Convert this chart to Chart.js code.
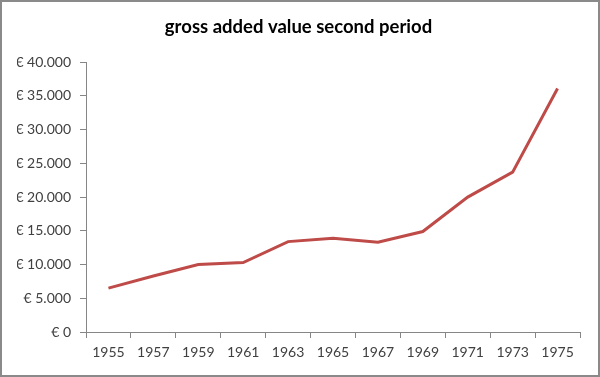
<!DOCTYPE html>
<html>
<head>
<meta charset="utf-8">
<script src="https://cdn.jsdelivr.net/npm/chart.js@4"></script>
<style>
    html, body { margin: 0; padding: 0; background: #fff; }
    #wrap { width: 600px; height: 377px; position: relative; }
</style>
</head>
<body>
<div id="wrap"><canvas id="line_chart"></canvas></div>
<script>
const years = ['1955', '1957', '1959', '1961', '1963', '1965', '1967', '1969', '1971', '1973', '1975'];
const grossValue = [6500, 8300, 10000, 10300, 13400, 13900, 13300, 14900, 20000, 23700, 36100];
const chartTitle = 'gross added value second period';

const fontFamily = "Lato, 'Open Sans', sans-serif";

// white background + thin grey frame like the original picture
const frame = {
    id: 'frame',
    beforeDraw: (chart) => {
        const c = chart.ctx;
        c.save();
        c.fillStyle = '#ffffff';
        c.fillRect(0, 0, chart.width, chart.height);
        c.strokeStyle = '#8a8a8a';
        c.lineWidth = 2;
        c.strokeRect(1, 1, chart.width - 2, chart.height - 2);
        c.restore();
    }
};

const euro = (v) => '€ ' + String(v).replace(/\B(?=(\d{3})+(?!\d))/g, '.');

const ctx = document.getElementById('line_chart').getContext('2d');
const line_chart = new Chart(ctx, {
    type: 'line',
    data: {
        labels: years,
        datasets: [{
            label: chartTitle,
            data: grossValue,
            borderColor: '#be4b48',
            borderWidth: 3,
            pointRadius: 0,
            tension: 0,
            fill: false
        }]
    },
    options: {
        responsive: true,
        maintainAspectRatio: false,
        animation: false,
        layout: {
            padding: { left: 17, right: 20, top: 0, bottom: 0 } // keeps title centred on the page
        },
        plugins: {
            legend: { display: false },
            tooltip: { enabled: false },
            title: {
                display: true,
                text: chartTitle,
                color: '#000000',
                font: { family: fontFamily, size: 18.5, weight: 'bold' },
                padding: { top: 16, bottom: 24 }
            }
        },
        scales: {
            x: {
                offset: true,
                grid: {
                    display: true,
                    drawOnChartArea: false,
                    drawTicks: true,
                    tickLength: 6,
                    color: '#868686',
                    offset: true
                },
                border: { color: '#868686', width: 1 },
                ticks: {
                    color: '#404040',
                    font: { family: fontFamily, size: 14 },
                    padding: 6,
                    maxRotation: 0,
                    autoSkip: false
                },
                afterFit: (scale) => { scale.height = 45; }
            },
            y: {
                min: 0,
                max: 40000,
                grid: {
                    display: true,
                    drawOnChartArea: false,
                    drawTicks: true,
                    tickLength: 6,
                    color: '#868686'
                },
                border: { color: '#868686', width: 1 },
                ticks: {
                    stepSize: 5000,
                    color: '#404040',
                    font: { family: fontFamily, size: 14 },
                    padding: 9,
                    callback: (value) => euro(value)
                },
                afterFit: (scale) => { scale.width = 69; }
            }
        }
    },
    plugins: [frame]
});
</script>
</body>
</html>
